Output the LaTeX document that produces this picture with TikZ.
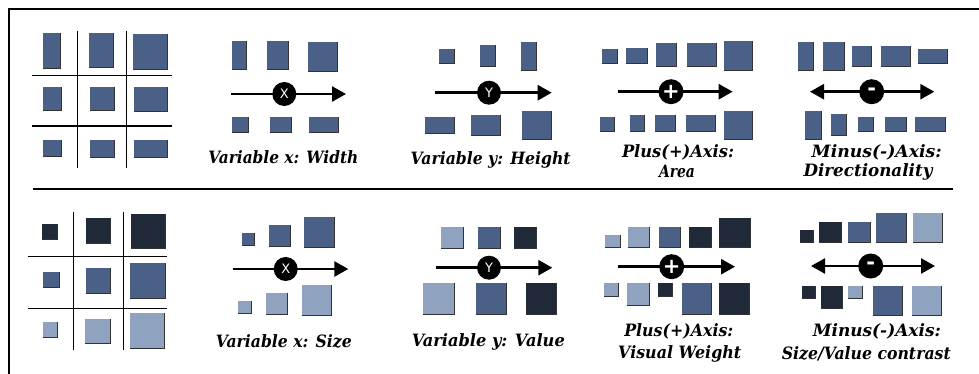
\documentclass[tikz,border=0pt]{standalone}
\usepackage{fontspec}
\usepackage{graphicx}
\usetikzlibrary{arrows.meta}
\newfontfamily\lblfont{DejaVu Serif}
\newfontfamily\circfont{DejaVu Sans}
\definecolor{bxm}{RGB}{74,96,135}
\definecolor{bxd}{RGB}{31,41,55}
\definecolor{bxl}{RGB}{143,162,192}
\newcommand{\bx}[5]{\fill[fill=#1] (#2,#3) rectangle (#4,#5); \draw[boxedge] (#2,#5) -- (#4,#5) -- (#4,#3);}
\newcommand{\fitw}[2]{\resizebox{#1pt}{\height}{#2}}
\tikzset{
  boxedge/.style={draw=black!80, line width=0.9pt},
  gridline/.style={draw=black, line width=1.4pt},
  axisline/.style={draw=black, line width=2.6pt, -{Triangle[length=14pt,width=15pt]}},
  axisboth/.style={draw=black, line width=2.6pt, {Triangle[length=14pt,width=15pt]}-{Triangle[length=14pt,width=15pt]}},
  axiscirc/.style={circle, fill=black, minimum size=24pt, inner sep=0pt, text=white, font=\circfont\fontsize{13}{13}\selectfont},
  axissign/.style={circle, fill=black, minimum size=25pt, inner sep=0pt, text=white, font=\circfont\bfseries\fontsize{21}{21}\selectfont},
  lbl/.style={inner sep=0pt, anchor=center, font=\lblfont\bfseries\itshape\fontsize{17}{17}\selectfont},
}
\begin{document}
\begin{tikzpicture}[x=1pt,y=-1pt]
\useasboundingbox (0,0) rectangle (979,374);
\fill[white] (0,0) rectangle (979,374);
% frame
\draw[line width=1.6pt] (9,374) -- (9,9) -- (979,9);
\draw[line width=2.6pt] (33,189) -- (953,189);

% ---------- top-left grid ----------
\draw[gridline] (77.3,30.7) -- (77.3,168);
\draw[gridline] (126.7,30.7) -- (126.7,168);
\draw[gridline] (32,75.3) -- (171.7,75.3);
\draw[gridline] (32,126) -- (171.7,126);
\bx{bxm}{42.7}{33.3}{60.7}{68.3}
\bx{bxm}{89}{33.3}{113.3}{67}
\bx{bxm}{133.3}{34}{167.7}{69.7}
\bx{bxm}{43.3}{86.7}{61.7}{110.7}
\bx{bxm}{90}{86.7}{114.3}{110}
\bx{bxm}{134.3}{87}{167.7}{111.7}
\bx{bxm}{43.3}{140}{61.7}{156.7}
\bx{bxm}{90}{140}{114.3}{157}
\bx{bxm}{134.3}{140}{167.7}{157}

% ---------- bottom-left grid ----------
\draw[gridline] (73.3,211.7) -- (73.3,350);
\draw[gridline] (123.3,211.7) -- (123.3,350);
\draw[gridline] (28.3,256.7) -- (166.7,256.7);
\draw[gridline] (28.3,308.3) -- (166.7,308.3);
\bx{bxd}{42}{224}{57.7}{239.3}
\bx{bxd}{86}{218.3}{110.7}{243.3}
\bx{bxd}{131}{214}{165.3}{248.3}
\bx{bxm}{43.3}{272.3}{59}{287.7}
\bx{bxm}{86}{267.7}{110.7}{293.3}
\bx{bxm}{130}{263.3}{165.3}{298.3}
\bx{bxl}{42.7}{321.7}{57.7}{337.7}
\bx{bxl}{85}{319}{110.7}{343.3}
\bx{bxl}{130}{313.3}{164.3}{348.3}

% ---------- top panel: Width ----------
\bx{bxm}{232.3}{40.7}{246.7}{69.3}
\bx{bxm}{267.3}{40.7}{288.3}{69.3}
\bx{bxm}{308.3}{41.7}{337.7}{71}
\coordinate (a1s) at (231,94);
\coordinate (a1e) at (346,94);
\draw[axisline] (a1s) -- (a1e);
\node[axiscirc] (c1) at (284.3,94) {X};
\bx{bxm}{232.3}{117.3}{248.3}{132.3}
\bx{bxm}{270}{117.3}{291.7}{132.3}
\bx{bxm}{309.3}{117.3}{338.3}{132.3}
\node[lbl] (l1) at (283.3,157.3) {\fitw{150}{Variable x: Width}};

% ---------- top panel: Height ----------
\bx{bxm}{439.3}{49.3}{454.3}{63.3}
\bx{bxm}{480}{45}{495}{66}
\bx{bxm}{521}{41.7}{536}{70}
\coordinate (a2s) at (435,92.7);
\coordinate (a2e) at (551.7,92.7);
\draw[axisline] (a2s) -- (a2e);
\node[axiscirc] (c2) at (489,92.7) {Y};
\bx{bxm}{425}{117.3}{454}{133.3}
\bx{bxm}{471}{115}{500}{135}
\bx{bxm}{522.3}{110.7}{551.7}{139.3}
\node[lbl] (l2) at (490.7,160) {\fitw{160}{Variable y: Height}};

% ---------- top panel: Area ----------
\bx{bxm}{601.7}{49.3}{617.7}{63.3}
\bx{bxm}{625.7}{48.3}{647.3}{63.3}
\bx{bxm}{655.7}{42.7}{676.7}{66.7}
\bx{bxm}{686.7}{42.7}{716}{66.7}
\bx{bxm}{724}{40.7}{752.7}{70}
\coordinate (a3s) at (618.3,91.7);
\coordinate (a3e) at (732.7,91.7);
\draw[axisline] (a3s) -- (a3e);
\node[axissign] (c3) at (671,91.7) {+};
\bx{bxm}{600}{116.7}{614.3}{131.7}
\bx{bxm}{630}{115}{644.3}{131.7}
\bx{bxm}{655}{115}{675}{131.7}
\bx{bxm}{686}{115}{715.7}{131.7}
\bx{bxm}{724}{110.7}{752.7}{139.3}
\node[lbl] (l3a) at (678,152.7) {\fitw{112}{Plus(+)Axis:}};
\node[lbl] (l3b) at (677,171.7) {\fitw{36}{Area}};

% ---------- top panel: Directionality ----------
\bx{bxm}{798.3}{41.7}{813.3}{70}
\bx{bxm}{823.3}{41.7}{844}{70}
\bx{bxm}{851.7}{46}{871.7}{66}
\bx{bxm}{881}{46}{910}{66}
\bx{bxm}{918.3}{49.3}{947.7}{63.3}
\coordinate (a4s) at (810,91.7);
\coordinate (a4e) at (934.3,91.7);
\draw[axisboth] (a4s) -- (a4e);
\node[axissign] (c4) at (871.7,91.7) {-};
\bx{bxm}{805}{110.7}{821}{139}
\bx{bxm}{831}{114.3}{846}{135}
\bx{bxm}{858.3}{116.7}{873.3}{131.7}
\bx{bxm}{885}{116.7}{906.7}{131.7}
\bx{bxm}{915}{116.7}{945}{131.7}
\node[lbl] (l4a) at (876.7,152.7) {\fitw{130}{Minus(-)Axis:}};
\node[lbl] (l4b) at (868,171.7) {\fitw{129}{Directionality}};

% ---------- bottom panel: Size ----------
\bx{bxm}{241.7}{232.7}{254.3}{245}
\bx{bxm}{269}{225}{290}{246}
\bx{bxm}{304.3}{217.3}{334.3}{247.3}
\coordinate (b1s) at (232.7,269);
\coordinate (b1e) at (348.3,269);
\draw[axisline] (b1s) -- (b1e);
\node[axiscirc] (d1) at (285.7,269) {X};
\bx{bxl}{238.3}{301}{251.7}{313.3}
\bx{bxl}{266}{292.7}{287.3}{314}
\bx{bxl}{301.7}{285}{331.7}{315.7}
\node[lbl] (m1) at (283.8,341.7) {\fitw{136}{Variable x: Size}};

% ---------- bottom panel: Value ----------
\bx{bxl}{441}{226.7}{463.3}{248.3}
\bx{bxm}{477.7}{226.7}{500}{248.3}
\bx{bxd}{514}{226.7}{536.7}{248.3}
\coordinate (b2s) at (435.7,267.7);
\coordinate (b2e) at (552.3,267.7);
\draw[axisline] (b2s) -- (b2e);
\node[axiscirc] (d2) at (489,267.7) {Y};
\bx{bxl}{423.3}{283.3}{454.3}{314.3}
\bx{bxm}{475.7}{283.3}{506.7}{314.3}
\bx{bxd}{526}{283.3}{556.7}{314.3}
\node[lbl] (m2) at (488.3,341.7) {\fitw{153}{Variable y: Value}};

% ---------- bottom panel: Visual Weight ----------
\bx{bxl}{605}{235}{620}{247.7}
\bx{bxl}{627.7}{226.7}{649.3}{247.7}
\bx{bxm}{659}{226.7}{680.7}{247.7}
\bx{bxd}{689.3}{226.7}{711}{247.7}
\bx{bxd}{719.3}{217.7}{750}{247.7}
\coordinate (b3s) at (618.3,266.7);
\coordinate (b3e) at (735,266.7);
\draw[axisline] (b3s) -- (b3e);
\node[axissign] (d3) at (671.7,266.7) {+};
\bx{bxl}{604.3}{283.3}{618.3}{296.7}
\bx{bxl}{626.7}{283.3}{649}{305.7}
\bx{bxd}{658.3}{283.3}{672.3}{296.7}
\bx{bxm}{681.7}{283.3}{711.7}{314}
\bx{bxd}{719.3}{283.3}{749.3}{314}
\node[lbl] (m3a) at (678.8,331.7) {\fitw{109}{Plus(+)Axis:}};
\node[lbl] (m3b) at (679.7,354.3) {\fitw{123}{Visual Weight}};

% ---------- bottom panel: Size/Value contrast ----------
\bx{bxd}{800}{230}{813.3}{242.7}
\bx{bxd}{819.3}{221.7}{841}{242.7}
\bx{bxm}{847.7}{222.3}{870}{242.7}
\bx{bxm}{876}{213.3}{906}{242.7}
\bx{bxl}{913.3}{213.3}{942.7}{242.7}
\coordinate (b4s) at (811,266);
\coordinate (b4e) at (935,266);
\draw[axisboth] (b4s) -- (b4e);
\node[axissign] (d4) at (870.7,266) {-};
\bx{bxd}{801.7}{285.7}{815}{298.3}
\bx{bxd}{821}{285.7}{842.7}{308.3}
\bx{bxl}{848.3}{285.7}{862.3}{298.3}
\bx{bxm}{872.7}{285.7}{902.7}{315}
\bx{bxl}{911.7}{285.7}{941.7}{315}
\node[lbl] (m4a) at (876.8,331.7) {\fitw{128}{Minus(-)Axis:}};
\node[lbl] (m4b) at (866.3,354.3) {\fitw{169}{Size/Value contrast}};
\end{tikzpicture}
\end{document}
